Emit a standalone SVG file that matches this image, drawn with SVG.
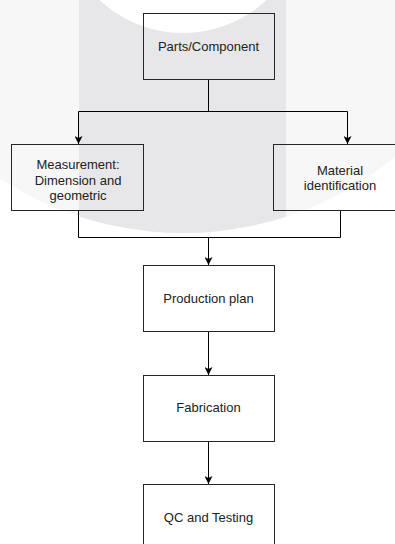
<svg xmlns="http://www.w3.org/2000/svg" width="395" height="544" viewBox="0 0 395 544">
  <style>
    .box { fill: none; stroke: #262626; stroke-width: 1; }
    .lbl { font-family: "Liberation Sans", Arial, sans-serif; font-size: 13px; fill: #222; text-anchor: middle; }
    .conn { fill: none; stroke: #000; stroke-width: 1; }
  </style>
  <defs>
    <marker id="arrow" viewBox="0 0 8 8" refX="8" refY="4" markerWidth="8" markerHeight="8" markerUnits="userSpaceOnUse" orient="auto">
      <path d="M0,0 L8,4 L0,8 L2,4 Z" fill="#000"/>
    </marker>
    <clipPath id="disk">
      <circle cx="183" cy="-100" r="333"/>
    </clipPath>
  </defs>

  <g id="background">
    <rect x="0" y="0" width="395" height="544" fill="#ffffff"/>
    <circle cx="183" cy="-100" r="333" fill="#f7f7f7"/>
    <rect x="79" y="0" width="207" height="240" fill="#e7e7e9" clip-path="url(#disk)"/>
    <circle cx="183" cy="-89" r="122" fill="#ffffff"/>
  </g>

  <g id="connectors">
    <path class="conn" d="M208.5,79.5 V111.5 M78.5,111.5 H347.5"/>
    <path class="conn" d="M78.5,111.5 V144" marker-end="url(#arrow)"/>
    <path class="conn" d="M347.5,111.5 V144" marker-end="url(#arrow)"/>
    <path class="conn" d="M78.5,210.5 V237.5 H340.5 V210.5"/>
    <path class="conn" d="M208.5,237.5 V265" marker-end="url(#arrow)"/>
    <path class="conn" d="M208.5,331.5 V375" marker-end="url(#arrow)"/>
    <path class="conn" d="M208.5,441.5 V484" marker-end="url(#arrow)"/>
  </g>

  <g id="node-parts">
    <rect class="box" x="143.5" y="13.5" width="131" height="66"/>
    <text class="lbl" x="208.5" y="51">Parts/Component</text>
  </g>
  <g id="node-measurement">
    <rect class="box" x="11.5" y="144.5" width="132" height="66"/>
    <text class="lbl" x="78" y="169">Measurement:</text>
    <text class="lbl" x="78" y="184.5">Dimension and</text>
    <text class="lbl" x="78" y="200">geometric</text>
  </g>
  <g id="node-material">
    <rect class="box" x="273.5" y="144.5" width="132" height="66"/>
    <text class="lbl" x="340" y="174.5">Material</text>
    <text class="lbl" x="340" y="190">identification</text>
  </g>
  <g id="node-production">
    <rect class="box" x="143.5" y="265.5" width="131" height="66"/>
    <text class="lbl" x="208.5" y="303">Production plan</text>
  </g>
  <g id="node-fabrication">
    <rect class="box" x="143.5" y="375.5" width="131" height="66"/>
    <text class="lbl" x="208.5" y="412">Fabrication</text>
  </g>
  <g id="node-qc">
    <rect class="box" x="143.5" y="484.5" width="131" height="66"/>
    <text class="lbl" x="208.5" y="522">QC and Testing</text>
  </g>
</svg>
